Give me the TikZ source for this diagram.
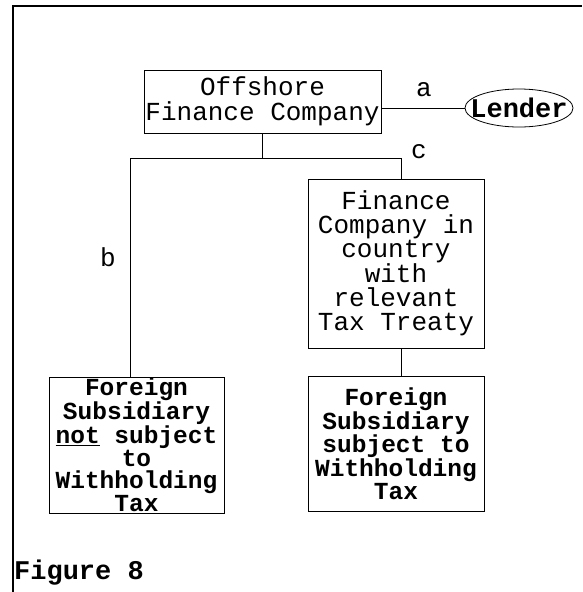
\documentclass[tikz,border=0pt]{standalone}
\usepackage{fontspec}
\setmainfont{Liberation Mono}
\usetikzlibrary{shapes.geometric}
\begin{document}
\begin{tikzpicture}[x=1pt,y=-1pt,
  company/.style={draw,line width=0.8pt,inner sep=0pt,align=center,
    font=\fontsize{26}{25}\selectfont},
  subsid/.style={company,font=\fontsize{24.5}{22.6}\bfseries\selectfont},
  link/.style={line width=0.8pt},
  letter/.style={inner sep=0pt,font=\fontsize{26}{26}\selectfont}]
  \useasboundingbox (0,0) rectangle (582,592);
  % Cadre
  \draw[line width=2pt] (13,592) -- (13,6) -- (582,6);
  % Sociétés
  \node[company,minimum width=237,minimum height=63] (ofc) at (262.5,101.5)
    {Offshore\\Finance Company};
  \node[draw,ellipse,line width=0.8pt,inner xsep=-12pt,inner ysep=0pt,
    minimum width=108,minimum height=38,
    font=\fontsize{27}{27}\bfseries\selectfont] (lender) at (519,108) {Lender};
  \node[company,minimum width=176,minimum height=169,
    font=\fontsize{26}{24}\selectfont] (fct) at (396,263.5)
    {Finance\\Company in\\country\\with\\relevant\\Tax Treaty};
  \node[subsid,minimum width=175,minimum height=136] (fsn) at (136.5,445)
    {Foreign\\Subsidiary\\\underline{not} subject\\to\\Withholding\\Tax};
  \node[subsid,minimum width=176,minimum height=135] (fsw) at (396,443.5)
    {Foreign\\Subsidiary\\subject to\\Withholding\\Tax};
  % Liaisons
  \coordinate (jl) at (130,158);
  \coordinate (jr) at (401,158);
  \draw[link] (lender.west -| ofc.east) -- (lender.west);
  \draw[link] (ofc.south) -- (ofc.south |- jl);
  \draw[link] (jl |- fsn.north) -- (jl) -- (jr) -- (jr |- fct.north);
  \draw[link] (fct.south -| jr) -- (fsw.north -| jr);
  \node[letter] (la) at (424,90) {a};
  \node[letter] (lb) at (108,257) {b};
  \node[letter] (lc) at (419,152) {c};
  \node[anchor=base west,inner sep=0pt,font=\fontsize{27}{27}\bfseries\selectfont]
    (fig) at (14,579) {Figure 8};
\end{tikzpicture}
\end{document}
